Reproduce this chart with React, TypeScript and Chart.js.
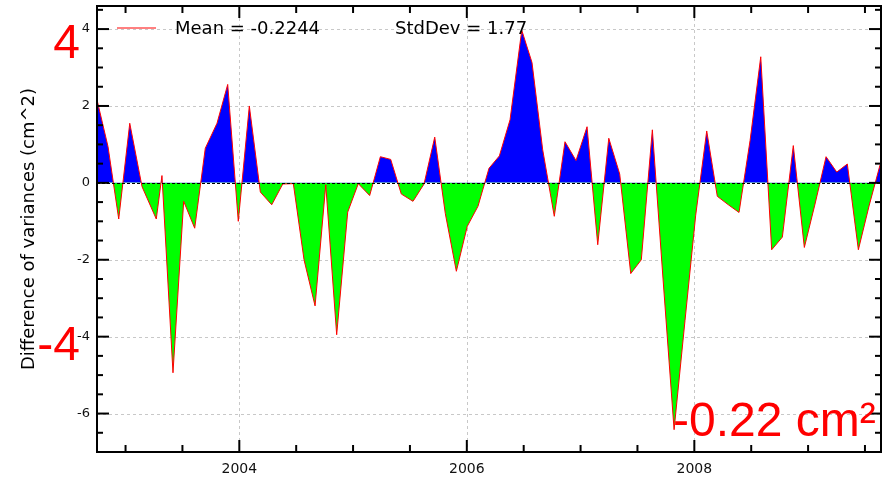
import React, { useEffect, useRef } from 'react';
import { Chart, registerables } from 'chart.js';

Chart.register(...registerables);

// Decimal-year sample times (35-day cycles)
const years = [
  2002.749, 2002.846, 2002.940, 2003.037, 2003.145, 2003.270, 2003.320, 2003.417,
  2003.511, 2003.608, 2003.701, 2003.804, 2003.898, 2003.991, 2004.088, 2004.185,
  2004.285, 2004.382, 2004.475, 2004.569, 2004.666, 2004.760, 2004.856, 2004.953,
  2005.046, 2005.146, 2005.240, 2005.331, 2005.424, 2005.527, 2005.624, 2005.718,
  2005.811, 2005.908, 2006.004, 2006.098, 2006.195, 2006.286, 2006.380, 2006.483,
  2006.573, 2006.667, 2006.769, 2006.863, 2006.960, 2007.057, 2007.151, 2007.248,
  2007.344, 2007.441, 2007.534, 2007.631, 2007.725, 2007.822, 2007.918, 2008.012,
  2008.109, 2008.202, 2008.299, 2008.393, 2008.490, 2008.584, 2008.680, 2008.774,
  2008.870, 2008.967, 2009.061, 2009.158, 2009.252, 2009.345, 2009.442, 2009.536,
  2009.633,
];

// Difference of variances (cm^2)
const diffValues = [
  2.16, 0.94, -0.94, 1.55, -0.1, -0.94, 0.19, -4.94,
  -0.48, -1.18, 0.9, 1.55, 2.56, -1.0, 2.0, -0.24,
  -0.57, -0.03, -0.02, -2.0, -3.2, -0.05, -3.95, -0.76,
  -0.02, -0.33, 0.68, 0.61, -0.29, -0.48, -0.03, 1.19,
  -0.8, -2.3, -1.13, -0.61, 0.38, 0.7, 1.64, 3.97,
  3.13, 0.86, -0.87, 1.07, 0.58, 1.46, -1.61, 1.16,
  0.23, -2.36, -2.0, 1.38, -2.5, -6.42, -3.58, -0.84,
  1.35, -0.35, -0.57, -0.77, 1.1, 3.28, -1.74, -1.41,
  0.97, -1.68, -0.55, 0.68, 0.28, 0.49, -1.74, -0.6,
  0.47,
];

const xMajorTicks = [2004, 2006, 2008];
const xMinorTicks = [2003, 2003.5, 2004.5, 2005, 2005.5, 2006.5, 2007, 2007.5, 2008.5, 2009, 2009.5];
const yMajorTicks = [-6, -4, -2, 0, 2, 4];
const yMinorTicks = [-6.5, -5.5, -5, -4.5, -3.5, -3, -2.5, -1.5, -1, -0.5, 0.5, 1, 1.5, 2.5, 3, 3.5, 4.5];

const xRange = [2002.749, 2009.641];
const yRange = [-7, 4.6];

const legendMean = 'Mean = -0.2244';
const legendStd = 'StdDev = 1.77';
const yTitle = 'Difference of variances (cm^2)';
const annTop = '4';
const annMid = '-4';
const annBottom = '-0.22 cm²';

const FONT = '"DejaVu Sans", sans-serif';

const framePlugin = {
  id: 'framePlugin',
  beforeDatasetsDraw(chart: any) {
    const { ctx, chartArea: a, scales } = chart;
    const x = scales.x, y = scales.y;
    ctx.save();
    ctx.strokeStyle = '#c8c8c8';
    ctx.lineWidth = 1;
    ctx.setLineDash([3, 3]);
    for (const v of yMajorTicks) {
      if (v === 0) continue;
      const py = Math.round(y.getPixelForValue(v)) + 0.5;
      ctx.beginPath(); ctx.moveTo(a.left, py); ctx.lineTo(a.right, py); ctx.stroke();
    }
    for (const v of xMajorTicks) {
      const px = Math.round(x.getPixelForValue(v)) + 0.5;
      ctx.beginPath(); ctx.moveTo(px, a.top); ctx.lineTo(px, a.bottom); ctx.stroke();
    }
    ctx.restore();
  },
  afterDatasetsDraw(chart: any) {
    const { ctx, chartArea: a, scales } = chart;
    const x = scales.x, y = scales.y;
    ctx.save();
    // zero line
    ctx.strokeStyle = '#000';
    ctx.lineWidth = 1;
    ctx.setLineDash([3, 2]);
    const zy = Math.round(y.getPixelForValue(0)) + 0.5;
    ctx.beginPath(); ctx.moveTo(a.left, zy); ctx.lineTo(a.right, zy); ctx.stroke();
    ctx.setLineDash([]);
    // box
    ctx.lineWidth = 2;
    ctx.strokeRect(a.left, a.top, a.right - a.left, a.bottom - a.top);
    // ticks
    const tick = (vals: number[], len: number) => {
      for (const v of vals) {
        const py = y.getPixelForValue(v);
        ctx.beginPath(); ctx.moveTo(a.left, py); ctx.lineTo(a.left + len, py); ctx.stroke();
        ctx.beginPath(); ctx.moveTo(a.right, py); ctx.lineTo(a.right - len, py); ctx.stroke();
      }
    };
    const tickX = (vals: number[], len: number) => {
      for (const v of vals) {
        const px = x.getPixelForValue(v);
        ctx.beginPath(); ctx.moveTo(px, a.bottom); ctx.lineTo(px, a.bottom - len); ctx.stroke();
        ctx.beginPath(); ctx.moveTo(px, a.top); ctx.lineTo(px, a.top + len); ctx.stroke();
      }
    };
    ctx.lineWidth = 2;
    tick(yMajorTicks, 12);
    tick(yMinorTicks, 6);
    tickX(xMajorTicks, 12);
    tickX(xMinorTicks, 7);
    // legend
    ctx.strokeStyle = 'red';
    ctx.lineWidth = 1;
    ctx.beginPath(); ctx.moveTo(117, 28); ctx.lineTo(156, 28); ctx.stroke();
    ctx.fillStyle = '#000';
    ctx.font = `18px ${FONT}`;
    ctx.textAlign = 'left';
    ctx.textBaseline = 'alphabetic';
    ctx.fillText(legendMean, 175, 34);
    ctx.fillText(legendStd, 395, 34);
    ctx.restore();
  },
  afterDraw(chart: any) {
    const { ctx } = chart;
    ctx.save();
    ctx.fillStyle = '#ff0000';
    ctx.font = '48px "Liberation Sans", Arial, sans-serif';
    ctx.textBaseline = 'alphabetic';
    ctx.textAlign = 'right';
    ctx.fillText(annTop, 80, 58);
    ctx.fillText(annMid, 80, 360);
    ctx.textAlign = 'left';
    ctx.fillText(annBottom, 673, 436);
    ctx.restore();
  },
};

export default function App() {
  const canvasRef = useRef<HTMLCanvasElement | null>(null);

  useEffect(() => {
    if (!canvasRef.current) return;
    const points = years.map((t, i) => ({ x: t, y: diffValues[i] }));
    const chart = new Chart(canvasRef.current, {
      type: 'line',
      data: {
        datasets: [
          {
            data: points,
            borderColor: '#ff0000',
            borderWidth: 1,
            pointRadius: 0,
            tension: 0,
            fill: { target: { value: 0 }, above: '#0000ff', below: '#00ff00' },
          } as any,
        ],
      },
      options: {
        animation: false,
        responsive: false,
        layout: { padding: { left: 0, right: 12, top: 6, bottom: 0 } },
        plugins: { legend: { display: false }, tooltip: { enabled: false } },
        scales: {
          x: {
            type: 'linear',
            min: xRange[0],
            max: xRange[1],
            afterFit: (s: any) => { s.height = 29; s.paddingLeft = 0; s.paddingRight = 0; },
            afterBuildTicks: (s: any) => { s.ticks = xMajorTicks.map((v) => ({ value: v })); },
            grid: { display: false, drawTicks: false },
            border: { display: false },
            ticks: {
              padding: 9,
              color: '#111',
              font: { family: FONT, size: 14 },
              maxRotation: 0,
              callback: (v: any) => String(v),
            },
          },
          y: {
            type: 'linear',
            min: yRange[0],
            max: yRange[1],
            afterFit: (s: any) => { s.width = 97; s.paddingTop = 0; s.paddingBottom = 0; },
            afterBuildTicks: (s: any) => { s.ticks = yMajorTicks.map((v) => ({ value: v })); },
            grid: { display: false, drawTicks: false },
            border: { display: false },
            ticks: {
              padding: 7,
              color: '#111',
              font: { family: FONT, size: 13 },
              callback: (v: any) => String(v),
            },
            title: {
              display: true,
              text: yTitle,
              color: '#000',
              font: { family: FONT, size: 18 },
              padding: { top: 19, bottom: 0 },
            },
          },
        },
      } as any,
      plugins: [framePlugin],
    });
    return () => chart.destroy();
  }, []);

  return (
    <div style={{ position: 'absolute', left: 0, top: 0, width: 893, height: 481, background: '#fff' }}>
      <canvas ref={canvasRef} width={893} height={481} style={{ display: 'block' }} />
    </div>
  );
}
